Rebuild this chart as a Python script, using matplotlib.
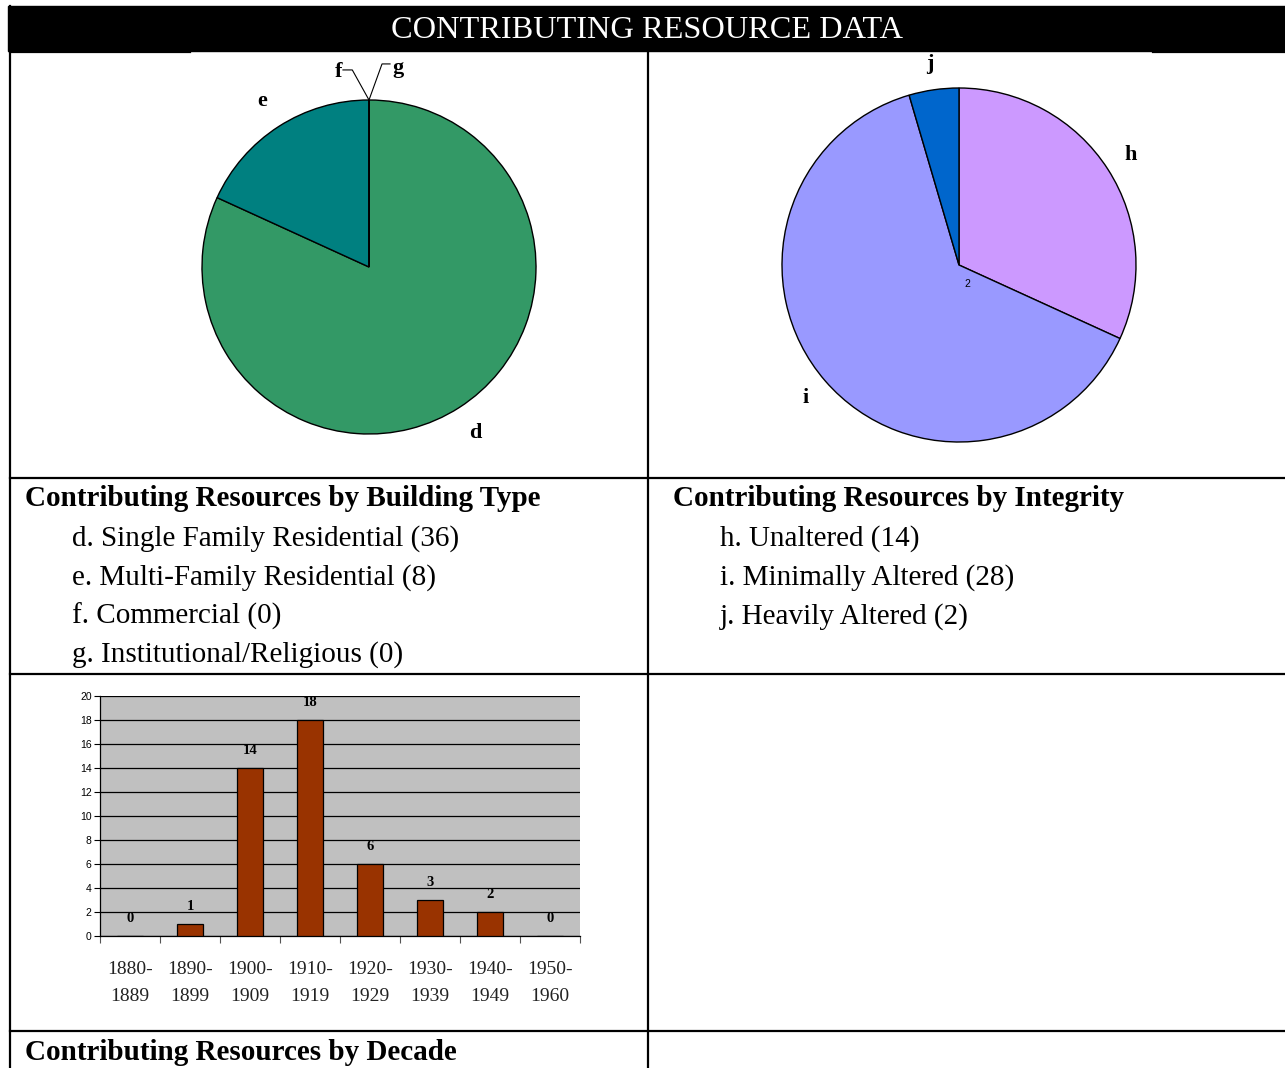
import matplotlib
matplotlib.use("Agg")
import matplotlib.pyplot as plt
from matplotlib.patches import Rectangle
import numpy as np

# building type breakdown
type_keys = ["d", "e", "f", "g"]
type_names = ["Single Family Residential", "Multi-Family Residential",
              "Commercial", "Institutional/Religious"]
type_counts = [36, 8, 0, 0]
type_colors = ["#339966", "#008080", "#FF6600", "#FFCC00"]

# integrity breakdown
integrity_keys = ["h", "i", "j"]
integrity_names = ["Unaltered", "Minimally Altered", "Heavily Altered"]
integrity_counts = [14, 28, 2]
integrity_colors = ["#CC99FF", "#9999FF", "#0066CC"]

# construction decade
decades = ["1880-\n1889", "1890-\n1899", "1900-\n1909", "1910-\n1919",
           "1920-\n1929", "1930-\n1939", "1940-\n1949", "1950-\n1960"]
decade_counts = [0, 1, 14, 18, 6, 3, 2, 0]

W, H = 1285, 1068
SERIF = "Liberation Serif"
SANS = "Liberation Sans"

fig = plt.figure(figsize=(W / 100, H / 100), dpi=100)
fig.patch.set_facecolor("white")


def px_axes(x0, y0, x1, y1):
    """Axes placed by pixel box (top-left origin)."""
    return fig.add_axes([x0 / W, 1 - y1 / H, (x1 - x0) / W, (y1 - y0) / H])


# ---- table frame and text ----
bg = fig.add_axes([0, 0, 1, 1], zorder=0)
bg.set_xlim(0, W)
bg.set_ylim(H, 0)
bg.axis("off")

bg.add_patch(Rectangle((8, 6), W - 8, 45, color="black"))
bg.text(647, 38, "CONTRIBUTING RESOURCE DATA", color="white", family=SERIF,
        fontsize=23.3, ha="center", va="baseline")

lw = 1.6
bg.plot([10, 10], [6, H], color="black", lw=lw)
bg.plot([648, 648], [51, H], color="black", lw=lw)
for y in [478, 674, 1031]:
    bg.plot([10, W], [y, y], color="black", lw=lw)
bg.plot([10, 190], [52, 52], color="black", lw=lw)
bg.plot([1153, W], [52, 52], color="black", lw=lw)

fs = 21
line_step = 38.7
bg.text(25, 506, "Contributing Resources by Building Type", family=SERIF,
        fontsize=fs, fontweight="bold", va="baseline")
for k, (key, name, n) in enumerate(zip(type_keys, type_names, type_counts)):
    bg.text(72, 546 + k * line_step, f"{key}. {name} ({n})", family=SERIF,
            fontsize=fs, va="baseline")

bg.text(673, 506, "Contributing Resources by Integrity", family=SERIF,
        fontsize=fs, fontweight="bold", va="baseline")
for k, (key, name, n) in enumerate(zip(integrity_keys, integrity_names,
                                       integrity_counts)):
    bg.text(720, 546 + k * line_step, f"{key}. {name} ({n})", family=SERIF,
            fontsize=fs, va="baseline")

bg.text(25, 1060, "Contributing Resources by Decade", family=SERIF,
        fontsize=fs, fontweight="bold", va="baseline")


def draw_pie(ax, counts, colors, keys, label_r):
    wedges, _ = ax.pie(counts, colors=colors, startangle=90, counterclock=False,
                       wedgeprops=dict(edgecolor="black", linewidth=1.0))
    for w, key, n in zip(wedges, keys, counts):
        if n == 0:
            continue
        mid = np.deg2rad((w.theta1 + w.theta2) / 2)
        ax.text(label_r * np.cos(mid), label_r * np.sin(mid), key,
                family=SERIF, fontsize=16, fontweight="bold",
                ha="center", va="center")
    return wedges


# ---- building type pie ----
r1 = 167
ax1 = px_axes(369 - 220, 267 - 220, 369 + 220, 267 + 220)
draw_pie(ax1, type_counts, type_colors, type_keys, 1.18)
ax1.set_xlim(-220 / r1, 220 / r1)
ax1.set_ylim(-220 / r1, 220 / r1)
ax1.set_aspect("equal")
ax1.axis("off")

# zero-sized wedges get leader lines
ax1.plot([0, -0.10, -0.156], [1.0, 1.18, 1.18], color="black", lw=0.8)
ax1.text(-0.162, 1.165, type_keys[2], family=SERIF, fontsize=16,
         fontweight="bold", ha="right", va="center")
ax1.plot([0, 0.078, 0.126], [1.0, 1.216, 1.216], color="black", lw=0.8)
ax1.text(0.14, 1.19, type_keys[3], family=SERIF, fontsize=16,
         fontweight="bold", ha="left", va="center")

# ---- integrity pie ----
r2 = 177
ax2 = px_axes(959 - 220, 265 - 220, 959 + 220, 265 + 220)
draw_pie(ax2, integrity_counts, integrity_colors, integrity_keys, 1.15)
ax2.set_xlim(-220 / r2, 220 / r2)
ax2.set_ylim(-220 / r2, 220 / r2)
ax2.set_aspect("equal")
ax2.axis("off")
ax2.text(0.05, -0.105, str(integrity_counts[2]), family=SANS, fontsize=7.5,
         ha="center", va="center")

# ---- decade bar chart ----
ax3 = px_axes(100, 696, 580, 936)
x = np.arange(len(decades))
ax3.set_facecolor("#C0C0C0")
ax3.bar(x, decade_counts, width=0.42, color="#993300", edgecolor="black",
        linewidth=0.9, zorder=3)
for xi, v in zip(x, decade_counts):
    ax3.annotate(str(v), (xi, v), xytext=(0, 12.5), textcoords="offset points",
                 ha="center", va="center", family=SERIF, fontsize=10.5,
                 fontweight="bold", zorder=4)

ax3.set_xlim(-0.5, len(decades) - 0.5)
ax3.set_ylim(0, 20)
ax3.set_yticks(np.arange(0, 21, 2))
ax3.yaxis.grid(True, color="black", linewidth=0.9, zorder=1)
ax3.set_axisbelow(True)
ax3.tick_params(axis="y", labelsize=7.5, length=4, width=0.8, pad=2)
for lab in ax3.get_yticklabels():
    lab.set_family(SANS)

ax3.set_xticks(np.arange(len(decades) + 1) - 0.5)
ax3.set_xticklabels([])
ax3.tick_params(axis="x", which="major", length=5, width=0.8, color="#555555")
ax3.set_xticks(x, minor=True)
ax3.set_xticklabels(decades, minor=True, family=SERIF, fontsize=14,
                    linespacing=1.75, color="#222222")
ax3.tick_params(axis="x", which="minor", length=0, pad=18)

ax3.spines["top"].set_visible(False)
ax3.spines["right"].set_visible(False)
ax3.spines["left"].set_linewidth(0.9)
ax3.spines["bottom"].set_linewidth(0.9)

fig.savefig("out.png", dpi=100)
